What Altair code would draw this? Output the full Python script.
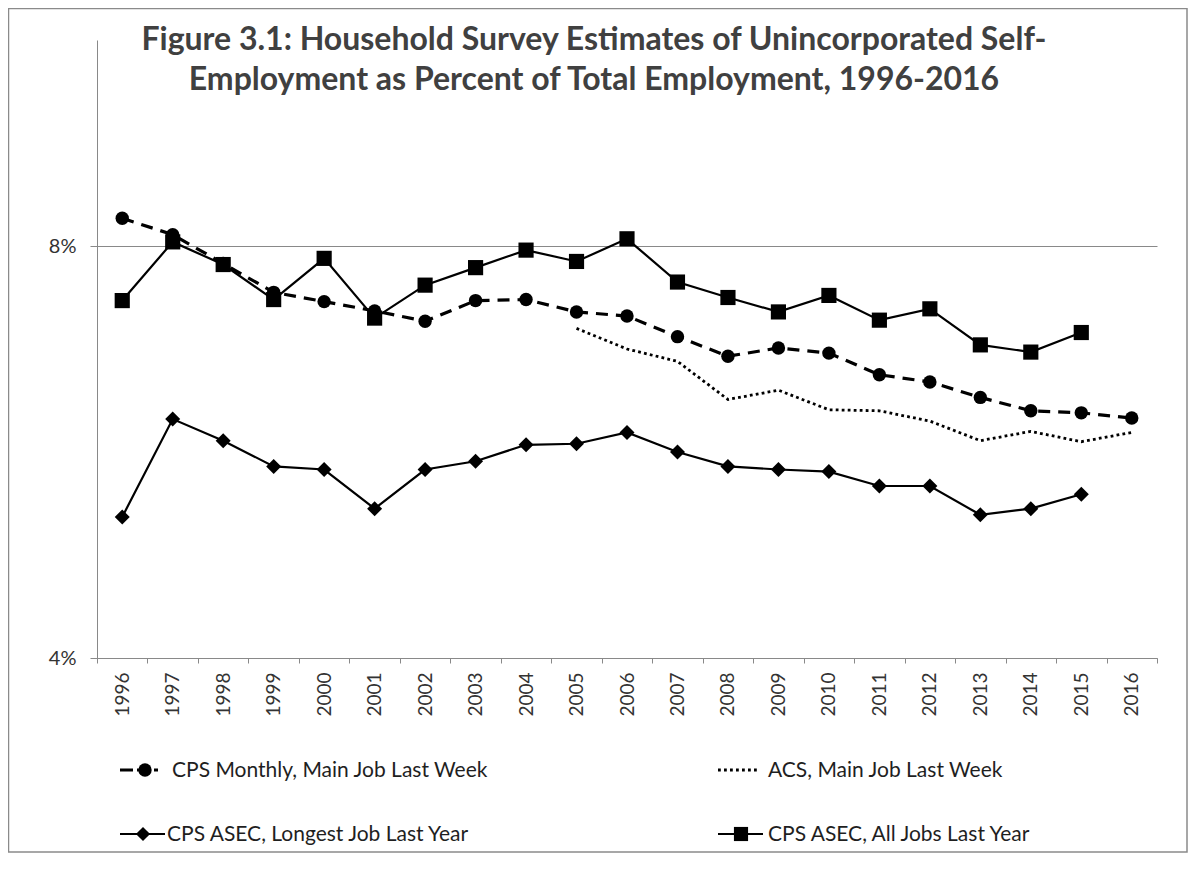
import altair as alt
import pandas as pd

# ---------------- data ----------------
years = list(range(1996, 2017))
series_names = [
    "CPS Monthly, Main Job Last Week",
    "ACS, Main Job Last Week",
    "CPS ASEC, Longest Job Last Year",
    "CPS ASEC, All Jobs Last Year",
]
cps_monthly = [8.27, 8.11, 7.83, 7.55, 7.46, 7.37, 7.27, 7.47, 7.48, 7.36, 7.32,
               7.12, 6.93, 7.01, 6.96, 6.75, 6.68, 6.53, 6.40, 6.38, 6.33]
acs = [None] * 9 + [7.20, 7.00, 6.88, 6.51, 6.60, 6.41, 6.40, 6.30, 6.11, 6.20, 6.10, 6.19]
asec_longest = [5.37, 6.32, 6.11, 5.86, 5.83, 5.45, 5.83, 5.91, 6.07, 6.08, 6.19,
                6.00, 5.86, 5.83, 5.81, 5.67, 5.67, 5.39, 5.45, 5.59, None]
asec_all = [7.47, 8.04, 7.82, 7.48, 7.88, 7.30, 7.62, 7.79, 7.96, 7.85, 8.07,
            7.65, 7.50, 7.36, 7.52, 7.28, 7.39, 7.04, 6.97, 7.16, None]
y_ticks = [4, 8]

title_lines = [
    "Figure 3.1: Household Survey Estimates of Unincorporated Self-",
    "Employment as Percent of Total Employment, 1996-2016",
]

rows = []
for name, vals in zip(series_names, [cps_monthly, acs, asec_longest, asec_all]):
    for yr, v in zip(years, vals):
        if v is not None:
            rows.append({"year": str(yr), "value": v, "series": name})
df = pd.DataFrame(rows)
one = pd.DataFrame({"k": [0]})

FONT = "Lato"
AX = "#898989"
TXT = "#333333"
LEG = "#1f1f1f"

x_enc = alt.X(
    "year:O",
    sort=[str(y) for y in years],
    scale=alt.Scale(type="band", paddingInner=0, paddingOuter=0),
    axis=alt.Axis(
        title=None, labelAngle=-90, labelFont=FONT, labelFontSize=19,
        labelColor=TXT, tickBand="extent", tickSize=5, tickColor=AX,
        domainColor=AX, labelPadding=9, grid=False,
    ),
)
y_enc = alt.Y(
    "value:Q",
    scale=alt.Scale(domain=[4, 10], nice=False, zero=False),
    axis=alt.Axis(
        title=None, values=y_ticks, labelExpr="datum.value + '%'",
        grid=True, gridColor=AX, gridWidth=1, tickSize=7, tickColor=AX,
        domainColor=AX, labelFont=FONT, labelFontSize=20, labelColor=TXT,
        labelPadding=14,
    ),
)

base = alt.Chart(df).encode(x=x_enc, y=y_enc)


def sel(name):
    return base.transform_filter(alt.datum.series == name)


DOT = [2.8, 3.2]
acs_line = sel(series_names[1]).mark_line(
    color="black", strokeWidth=2.8, strokeDash=DOT)
mon_line = sel(series_names[0]).mark_line(
    color="black", strokeWidth=3.2, strokeDash=[12, 8])
mon_pts = sel(series_names[0]).mark_point(
    shape="circle", filled=True, color="black", size=180, opacity=1)
lng_line = sel(series_names[2]).mark_line(color="black", strokeWidth=2.2)
lng_pts = sel(series_names[2]).mark_point(
    shape="diamond", filled=True, color="black", size=225, opacity=1)
all_line = sel(series_names[3]).mark_line(color="black", strokeWidth=2.2)
all_pts = sel(series_names[3]).mark_point(
    shape="square", filled=True, color="black", size=230, opacity=1)

# ---------------- title ----------------
deco = alt.Chart(one)
title1 = deco.mark_text(
    text=title_lines[0], font=FONT, fontSize=32, fontWeight="bold",
    color="#404040", align="center", baseline="alphabetic",
).encode(x=alt.value(497), y=alt.value(10))
title2 = deco.mark_text(
    text=title_lines[1], font=FONT, fontSize=32, fontWeight="bold",
    color="#404040", align="center", baseline="alphabetic",
).encode(x=alt.value(497), y=alt.value(50))

# ---------------- legend ----------------
r1, r2 = 730, 794
LFS = 21
leg = [
    deco.mark_rule(color="black", strokeWidth=3.2, strokeDash=[13, 4]).encode(
        x=alt.value(23), x2=alt.value(61), y=alt.value(r1)),
    deco.mark_point(shape="circle", filled=True, color="black", size=180, opacity=1).encode(
        x=alt.value(48), y=alt.value(r1)),
    deco.mark_text(text=series_names[0], font=FONT, fontSize=LFS, color=LEG,
                   align="left", baseline="middle").encode(x=alt.value(75), y=alt.value(r1 + 1)),

    deco.mark_rule(color="black", strokeWidth=2.8, strokeDash=DOT).encode(
        x=alt.value(621), x2=alt.value(663), y=alt.value(r1)),
    deco.mark_text(text=series_names[1], font=FONT, fontSize=LFS, color=LEG,
                   align="left", baseline="middle").encode(x=alt.value(671), y=alt.value(r1 + 1)),

    deco.mark_rule(color="black", strokeWidth=2.2).encode(
        x=alt.value(23), x2=alt.value(68), y=alt.value(r2)),
    deco.mark_point(shape="diamond", filled=True, color="black", size=200, opacity=1).encode(
        x=alt.value(46), y=alt.value(r2)),
    deco.mark_text(text=series_names[2], font=FONT, fontSize=LFS, color=LEG,
                   align="left", baseline="middle").encode(x=alt.value(70), y=alt.value(r2 + 1)),

    deco.mark_rule(color="black", strokeWidth=2.2).encode(
        x=alt.value(621), x2=alt.value(666), y=alt.value(r2)),
    deco.mark_point(shape="square", filled=True, color="black", size=200, opacity=1).encode(
        x=alt.value(644), y=alt.value(r2)),
    deco.mark_text(text=series_names[3], font=FONT, fontSize=LFS, color=LEG,
                   align="left", baseline="middle").encode(x=alt.value(671), y=alt.value(r2 + 1)),
]

frame = deco.mark_rect(fillOpacity=0, stroke="#8a8a8a", strokeWidth=1.5).encode(
    x=alt.value(-88.5), x2=alt.value(1090), y=alt.value(-31.5), y2=alt.value(812))

chart = alt.layer(
    frame, acs_line, mon_line, lng_line, all_line, mon_pts, lng_pts, all_pts,
    title1, title2, *leg,
).properties(
    width=1060, height=618,
    autosize=alt.AutoSizeParams(type="none"),
    padding={"left": 89, "top": 32, "right": 31, "bottom": 195},
).configure_view(stroke=None)

chart.save("out.html", embed_options={"renderer": "svg", "actions": False})
